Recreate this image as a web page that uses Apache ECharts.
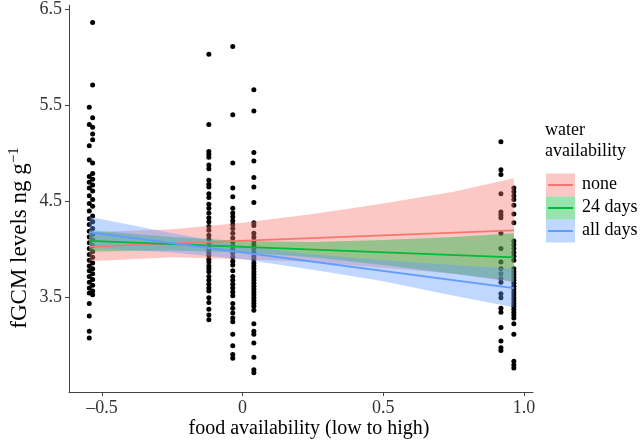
<!DOCTYPE html>
<html><head><meta charset="utf-8">
<script src="https://cdn.jsdelivr.net/npm/echarts@6/dist/echarts.min.js"></script>
<style>html,body{margin:0;padding:0;background:#fff}#c{width:640px;height:440px}</style>
</head><body><div id="c"></div>
<script>
// ---- data ----
const colX = [-0.545, -0.533, -0.12, -0.035, 0.04, 0.918, 0.964];
const col1a = [5.48, 5.30, 5.08, 4.93, 4.76, 4.70, 4.64, 4.56, 4.48, 4.40, 4.32, 4.26, 4.19, 4.13, 4.07, 4.01, 3.95, 3.89, 3.83, 3.78, 3.72, 3.66, 3.60, 3.55, 3.44, 3.31, 3.15, 3.08];
const col1b = [6.36, 5.71, 5.37, 5.27, 5.20, 5.14, 4.90, 4.79, 4.73, 4.67, 4.61, 4.52, 4.45, 4.35, 4.29, 4.22, 4.16, 4.10, 4.04, 3.98, 3.92, 3.86, 3.80, 3.75, 3.69, 3.63, 3.57, 3.53];
const col2 = [6.03, 5.30, 5.02, 4.99, 4.96, 4.88, 4.84, 4.72, 4.68, 4.65, 4.58, 4.54, 4.47, 4.43, 4.38, 4.33, 4.29, 4.24, 4.20, 4.15, 4.11, 4.07, 4.03, 4.00, 3.97, 3.94, 3.90, 3.87, 3.83, 3.80, 3.77, 3.72, 3.68, 3.64, 3.60, 3.57, 3.50, 3.45, 3.38, 3.32, 3.27];
const col3 = [6.11, 5.40, 4.90, 4.64, 4.55, 4.43, 4.38, 4.34, 4.30, 4.26, 4.22, 4.17, 4.12, 4.08, 4.04, 4.00, 3.96, 3.92, 3.88, 3.84, 3.78, 3.72, 3.68, 3.64, 3.60, 3.56, 3.52, 3.44, 3.39, 3.34, 3.29, 3.25, 3.12, 3.00, 2.91, 2.87];
const col4 = [5.66, 5.44, 5.01, 4.92, 4.75, 4.65, 4.49, 4.28, 4.25, 4.17, 4.13, 4.09, 4.05, 4.01, 3.97, 3.93, 3.90, 3.86, 3.83, 3.80, 3.77, 3.74, 3.71, 3.68, 3.65, 3.62, 3.59, 3.56, 3.53, 3.50, 3.47, 3.44, 3.41, 3.37, 3.23, 3.15, 3.12, 3.03, 2.88, 2.75, 2.72];
const col5 = [5.12, 4.83, 4.78, 4.58, 4.39, 4.36, 4.33, 4.17, 4.01, 3.87, 3.80, 3.75, 3.70, 3.66, 3.54, 3.50, 3.39, 3.35, 3.19, 3.05, 2.98, 2.95];
const col6 = [4.64, 4.60, 4.56, 4.52, 4.46, 4.37, 4.28, 4.09, 4.05, 4.01, 3.97, 3.93, 3.89, 3.80, 3.77, 3.74, 3.71, 3.68, 3.65, 3.62, 3.59, 3.56, 3.53, 3.50, 3.47, 3.44, 3.41, 3.38, 3.35, 3.32, 3.29, 3.23, 3.12, 2.84, 2.80, 2.77];

const groups = ['none', '24 days', 'all days'];
const lineX = [-0.545, 0.964];
const lineNone = [4.03, 4.20];
const line24 = [4.09, 3.92];
const lineAll = [4.18, 3.60];

const bandX = [-0.545, -0.25, 0, 0.25, 0.5, 0.75, 0.964];
const noneUpper = [4.18, 4.21, 4.28, 4.37, 4.48, 4.60, 4.74];
const noneLower = [3.88, 3.92, 3.90, 3.87, 3.81, 3.75, 3.66];
const d24Upper = [4.20, 4.13, 4.09, 4.08, 4.10, 4.13, 4.17];
const d24Lower = [3.98, 3.99, 3.97, 3.92, 3.84, 3.75, 3.67];
const allUpper = [4.34, 4.17, 4.04, 3.95, 3.89, 3.84, 3.80];
const allLower = [4.02, 3.97, 3.90, 3.79, 3.67, 3.52, 3.40];

const xTicks = [-0.5, 0, 0.5, 1.0];
const yTicks = [3.5, 4.5, 5.5, 6.5];

// ---- build ----
const FONT = '"Liberation Serif", "DejaVu Serif", serif';
const lineColors = ['#F8766D', '#00BA38', '#619CFF'];
const bandColors = ['rgba(248,118,109,0.4)', 'rgba(0,186,56,0.4)', 'rgba(97,156,255,0.4)'];

const cols = [col1a, col1b, col2, col3, col4, col5, col6];
const points = [];
cols.forEach((c, i) => c.forEach(v => points.push([colX[i], v])));

function bandSeries(lo, hi, color, name) {
  const data = bandX.map((x, i) => [x, lo[i], hi[i]]);
  return {
    type: 'custom', name: name, z: 3, silent: true,
    data: data,
    encode: { x: 0, y: [1, 2] },
    renderItem: function (params, api) {
      if (params.dataIndex !== 0) return;
      const pts = [];
      for (let i = 0; i < data.length; i++) pts.push(api.coord([data[i][0], data[i][2]]));
      for (let i = data.length - 1; i >= 0; i--) pts.push(api.coord([data[i][0], data[i][1]]));
      return { type: 'polygon', shape: { points: pts }, style: { fill: color, stroke: 'none' } };
    }
  };
}
function lineSeries(vals, color, name) {
  return {
    type: 'line', name: name, z: 4, silent: true, symbol: 'none',
    data: lineX.map((x, i) => [x, vals[i]]),
    lineStyle: { color: color, width: 1.8 }
  };
}

function fmtX(v) {
  if (Math.abs(v - 1) < 1e-9) return '1.0';
  if (v === 0) return '0';
  return String(v).replace('-', '\u2013');
}

const legendY = [185, 208, 231];
const legendGraphics = [
  { type: 'text', left: 545, top: 121, style: { text: 'water', font: '18px ' + FONT, fill: '#000' } },
  { type: 'text', left: 545, top: 142, style: { text: 'availability', font: '18px ' + FONT, fill: '#000' } },
  { type: 'text', x: 309, y: 429,
    style: { text: 'food availability (low to high)', font: '20px ' + FONT, fill: '#000', align: 'center', verticalAlign: 'middle' } },
  { type: 'text', x: 20, y: 238, rotation: Math.PI / 2,
    style: { text: '{a|fGCM levels ng g}{b|\u22121}', align: 'center', verticalAlign: 'middle',
      rich: { a: { fontFamily: FONT, fontSize: 23, fill: '#000', lineHeight: 27 },
              b: { fontFamily: FONT, fontSize: 15, fill: '#000', verticalAlign: 'top', lineHeight: 27, padding: [0, 0, 10, 0] } } } }
];
groups.forEach((g, i) => {
  legendGraphics.push({ type: 'rect', shape: { x: 546, y: legendY[i] - 11.5, width: 29, height: 23 }, style: { fill: bandColors[i] } });
  legendGraphics.push({ type: 'line', shape: { x1: 548, y1: legendY[i], x2: 573, y2: legendY[i] }, style: { stroke: lineColors[i], lineWidth: 2 } });
  legendGraphics.push({ type: 'text', left: 582, top: legendY[i] - 10, style: { text: g, font: '18px ' + FONT, fill: '#000' } });
});

const chart = echarts.init(document.getElementById('c'), null, { renderer: 'canvas' });
chart.setOption({
  animation: false,
  backgroundColor: '#fff',
  grid: { left: 69, right: 107, top: 5, bottom: 48 },
  xAxis: {
    type: 'value', min: -0.617, max: 1.032,
    axisLine: { show: true, onZero: false, lineStyle: { color: '#444', width: 1 } },
    axisTick: { show: true, customValues: xTicks, length: 4, lineStyle: { color: '#444' } },
    axisLabel: { customValues: xTicks, formatter: fmtX, fontFamily: FONT, fontSize: 18, color: '#333', margin: 7 },
    splitLine: { show: false }
  },
  yAxis: {
    type: 'value', min: 2.52, max: 6.54,
    axisLine: { show: true, onZero: false, lineStyle: { color: '#444', width: 1 } },
    axisTick: { show: true, customValues: yTicks, length: 4, lineStyle: { color: '#444' } },
    axisLabel: { customValues: yTicks, formatter: v => v.toFixed(1), fontFamily: FONT, fontSize: 18, color: '#333', margin: 7 },
    splitLine: { show: false }
  },
  series: [
    { type: 'scatter', name: 'points', z: 2, silent: true, symbolSize: 5, itemStyle: { color: '#000', opacity: 1 }, data: points },
    bandSeries(noneLower, noneUpper, bandColors[0], 'none band'),
    bandSeries(d24Lower, d24Upper, bandColors[1], '24 days band'),
    bandSeries(allLower, allUpper, bandColors[2], 'all days band'),
    lineSeries(lineNone, lineColors[0], 'none'),
    lineSeries(line24, lineColors[1], '24 days'),
    lineSeries(lineAll, lineColors[2], 'all days')
  ],
  graphic: legendGraphics
});
</script></body></html>
